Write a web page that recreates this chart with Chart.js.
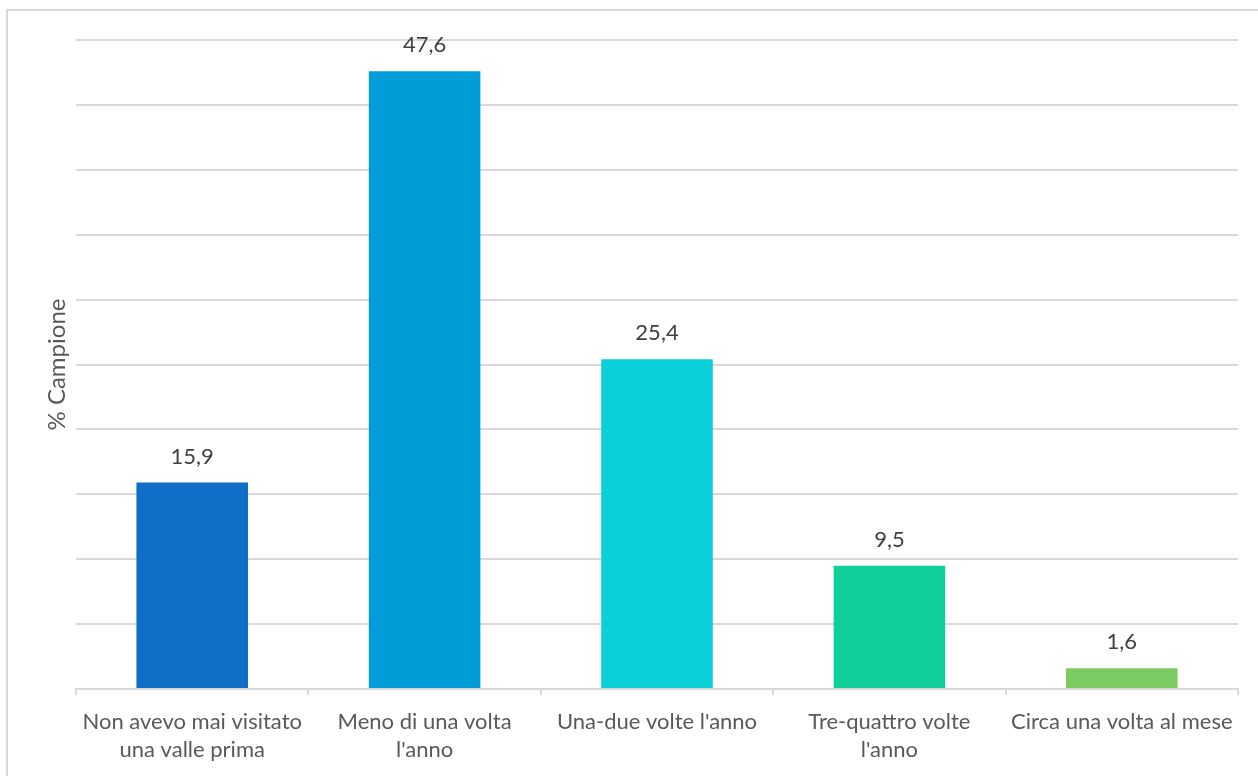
<!DOCTYPE html>
<html lang="it">
<head>
<meta charset="utf-8">
<title>% Campione</title>
<script src="https://cdn.jsdelivr.net/npm/chart.js@4.4.1/dist/chart.umd.min.js"></script>
<style>
  html, body { margin: 0; padding: 0; background: #ffffff; }
  #wrap { position: relative; width: 1258px; height: 776px; overflow: hidden; }
  /* frame of the chart object, only its left and top edges fall inside the page */
  #frame { position: absolute; left: 6px; top: 9px; width: 1400px; height: 900px;
           border-left: 2px solid #d9d9d9; border-top: 2px solid #d9d9d9; }
  #box { position: absolute; left: 0; top: 0; width: 1258px; height: 776px; }
</style>
</head>
<body>
<div id="wrap">
  <div id="frame"></div>
  <div id="box"><canvas id="chart"></canvas></div>
</div>
<script>
// Frequency of visits, share of sample (%)
const categories = [
  ['Non avevo mai visitato', 'una valle prima'],
  ['Meno di una volta', "l'anno"],
  "Una-due volte l'anno",
  ['Tre-quattro volte', "l'anno"],
  'Circa una volta al mese'
];
const values = [15.9, 47.6, 25.4, 9.5, 1.6];
const barColors = ['#0F6FC6', '#009DD9', '#0BD0D9', '#10CF9B', '#7CCA62'];
const yTitle = '% Campione';

const FONT = 'Lato, Calibri, "Open Sans", sans-serif';
const TEXT = '#595959';
const GRID = '#d9d9d9';

// value labels above each bar, decimal comma
const valueLabels = {
  id: 'valueLabels',
  afterDatasetsDraw(chart) {
    const ctx = chart.ctx;
    const meta = chart.getDatasetMeta(0);
    ctx.save();
    ctx.font = '22px ' + FONT;
    ctx.fillStyle = '#404040';
    ctx.textAlign = 'center';
    ctx.textBaseline = 'alphabetic';
    meta.data.forEach((bar, i) => {
      const txt = values[i].toFixed(1).replace('.', ',');
      ctx.fillText(txt, bar.x, bar.y - 19);
    });
    ctx.restore();
  }
};

new Chart(document.getElementById('chart'), {
  type: 'bar',
  data: {
    labels: categories,
    datasets: [{
      data: values,
      backgroundColor: barColors,
      borderWidth: 0,
      categoryPercentage: 1,
      barPercentage: 0.48
    }]
  },
  options: {
    responsive: true,
    maintainAspectRatio: false,
    animation: false,
    layout: { padding: { top: 40, right: 20, left: 0, bottom: 0 } },
    plugins: {
      legend: { display: false },
      tooltip: { enabled: false }
    },
    scales: {
      x: {
        grid: {
          display: true,
          drawOnChartArea: false,
          drawTicks: true,
          tickLength: 6,
          color: GRID,
          lineWidth: 2
        },
        border: { display: true, color: GRID, width: 2 },
        ticks: {
          color: TEXT,
          font: { family: FONT, size: 22, lineHeight: 1.27 },
          padding: 13,
          maxRotation: 0,
          autoSkip: false
        },
        afterFit(scale) { scale.height = 87; }
      },
      y: {
        min: 0,
        max: 50,
        ticks: { display: false, stepSize: 5 },
        grid: { color: GRID, lineWidth: 2, drawTicks: false },
        border: { display: false },
        title: {
          display: true,
          text: yTitle,
          color: TEXT,
          font: { family: FONT, size: 24 },
          padding: { top: 43, bottom: 0 }
        },
        afterFit(scale) { scale.width = 76; }
      }
    }
  },
  plugins: [valueLabels]
});
</script>
</body>
</html>
